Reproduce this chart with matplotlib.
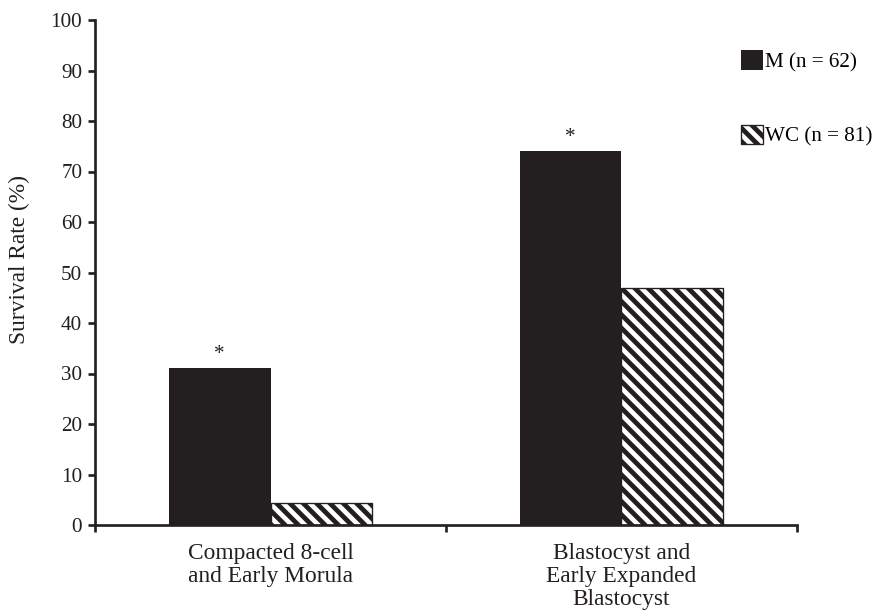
import matplotlib.pyplot as plt
import numpy as np

# data
stages = ['Compacted 8-cell\nand Early Morula', 'Blastocyst and\nEarly Expanded\nBlastocyst']
m_rate = [31, 74]
wc_rate = [4.3, 47]
m_label = 'M (n = 62)'
wc_label = 'WC (n = 81)'
yticks = np.arange(0, 101, 10)

ink = '#231f20'
plt.rcParams['font.family'] = ['Liberation Serif', 'DejaVu Serif']
plt.rcParams['hatch.linewidth'] = 4.3
plt.rcParams['hatch.color'] = ink

fig = plt.figure(figsize=(878 / 80, 611 / 80), dpi=80)
ax = fig.add_axes([95 / 878, 1 - 525 / 611, 702 / 878, 505 / 611])

centers = np.arange(len(stages)) + 0.5
width = 0.29
b1 = ax.bar(centers - width / 2, m_rate, width, color=ink, edgecolor=ink, linewidth=0, label=m_label)
b2 = ax.bar(centers + width / 2, wc_rate, width, color='white', edgecolor=ink, linewidth=1.2,
            hatch='\\\\', label=wc_label)

# significance marks
for r in b1:
    ax.annotate('*', xy=(r.get_x() + r.get_width() / 2, r.get_height()),
                xytext=(0, 4), textcoords='offset points',
                ha='center', va='bottom', fontsize=19, color=ink)

ax.set_xlim(0, len(stages))
ax.set_ylim(0, 100)
ax.set_yticks(yticks)
ax.tick_params(axis='y', labelsize=19, colors=ink, length=6.5, width=2.4, pad=5)

# boundary ticks on x, labels in between
ax.set_xticks(np.arange(len(stages) + 1))
ax.set_xticklabels([])
ax.set_xticks(centers, minor=True)
ax.set_xticklabels(stages, minor=True, fontsize=21, color=ink, linespacing=1.12)
ax.tick_params(axis='x', which='major', length=6.5, width=2.4, colors=ink)
ax.tick_params(axis='x', which='minor', length=0, pad=16)

for s in ['top', 'right']:
    ax.spines[s].set_visible(False)
for s in ['left', 'bottom']:
    ax.spines[s].set_linewidth(2.4)
    ax.spines[s].set_color(ink)

ax.set_ylabel('Survival Rate (%)', fontsize=21, color=ink)
ax.yaxis.set_label_coords(-0.093, 0.525)

ax.legend(loc='upper left', bbox_to_anchor=(741 / 878, 1 - 50 / 611), bbox_transform=fig.transFigure,
          frameon=False, fontsize=19, borderpad=0, borderaxespad=0,
          handlelength=1.05, handleheight=1.05, handletextpad=0.1, labelspacing=2.5)

fig.savefig('out.png', dpi=80)
